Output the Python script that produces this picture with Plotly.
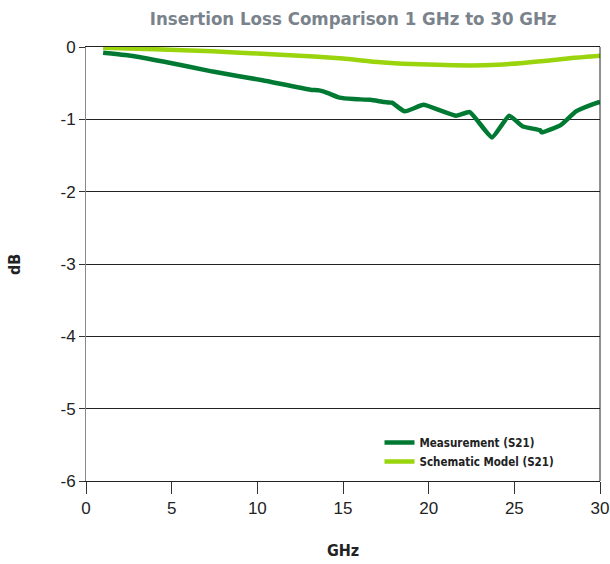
import plotly.graph_objects as go

# measured S21 (GHz, dB)
meas_ghz = [1, 2.6, 4.5, 7.4, 10.3, 13.1, 13.6, 14.05, 14.8, 15.6, 16.6, 17.4, 17.85,
            18.6, 19.7, 20.7, 21.6, 22.4, 23.7, 24.7, 25.5, 26.5, 26.6, 27.7, 28.6, 29.6, 30]
meas_db = [-0.08, -0.12, -0.2, -0.34, -0.46, -0.59, -0.6, -0.63, -0.7, -0.72, -0.73, -0.76, -0.77,
           -0.89, -0.8, -0.88, -0.95, -0.9, -1.25, -0.95, -1.1, -1.15, -1.18, -1.08, -0.89, -0.79, -0.76]

# schematic model S21
model_ghz = [1, 4, 7.4, 10, 13.3, 15, 17.2, 19, 21, 22.5, 24, 25.5, 26.9, 28.5, 30]
model_db = [-0.01, -0.03, -0.06, -0.09, -0.13, -0.16, -0.21, -0.235, -0.25, -0.255, -0.245, -0.22, -0.19, -0.15, -0.12]

y_ticks = [0, -1, -2, -3, -4, -5, -6]
y_labels = ["0", "-1", "-2", "-3", "-4", "-5", "-6"]

narrow = "DejaVu Sans Condensed, Liberation Sans Narrow, Arial Narrow, sans-serif"

fig = go.Figure()
fig.add_trace(go.Scatter(x=meas_ghz, y=meas_db, mode="lines", name="<b>Measurement (S21)</b>",
                         line=dict(color="#007a33", width=4.5, shape="spline", smoothing=0.4)))
fig.add_trace(go.Scatter(x=model_ghz, y=model_db, mode="lines", name="<b>Schematic Model (S21)</b>",
                         line=dict(color="#9ad40c", width=4.5, shape="spline", smoothing=0.6)))

fig.update_layout(
    width=610, height=564,
    margin=dict(l=86, r=10, t=47, b=83),
    plot_bgcolor="white", paper_bgcolor="white",
    font=dict(family="Liberation Sans, Arial, sans-serif", color="#222", size=17),
    title=dict(text="<b>Insertion Loss Comparison 1 GHz to 30 GHz</b>", x=0.579, xanchor="center",
               y=0.968, yanchor="middle",
               font=dict(family=narrow, size=18.5, color="#7a838c")),
    showlegend=True,
    legend=dict(x=0.571, y=0.122, xanchor="left", yanchor="top", bgcolor="rgba(0,0,0,0)",
                font=dict(family=narrow, size=11.5, color="#222"),
                tracegroupgap=0),
    xaxis=dict(range=[0, 30], dtick=5, ticks="outside", ticklen=12, tickcolor="#333",
               showgrid=False, zeroline=False, showline=True, linecolor="#222", mirror=True,
               automargin=False),
    yaxis=dict(range=[-6, 0], tickvals=y_ticks, ticktext=y_labels, ticks="outside", ticklen=6,
               tickcolor="#333", showgrid=True, gridcolor="#222", gridwidth=1, zeroline=False,
               showline=True, linecolor="#888", mirror=False, automargin=False),
)
# axis titles
fig.add_annotation(text="<b>dB</b>", xref="paper", yref="paper", x=-0.138, y=0.498,
                   textangle=-90, showarrow=False, xanchor="center", yanchor="middle",
                   font=dict(family=narrow, size=16, color="#222"))
fig.add_annotation(text="<b>GHz</b>", xref="paper", yref="paper", x=0.5, y=-0.159,
                   showarrow=False, xanchor="center", yanchor="middle",
                   font=dict(family=narrow, size=16, color="#222"))
# right border
fig.add_shape(type="line", xref="paper", yref="paper", x0=1, x1=1, y0=0, y1=1,
              line=dict(color="#222", width=1))

# drop the default page margin so the chart fills the window
fig.write_html("out.html", config={"displayModeBar": False},
               post_script="document.body.style.margin='0';")
